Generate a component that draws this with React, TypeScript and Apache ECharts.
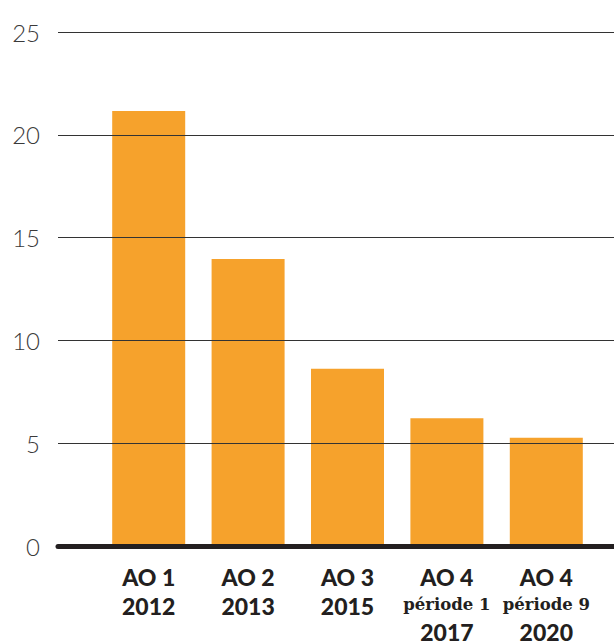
import React, { useEffect, useRef } from "react";
import * as echarts from "echarts";

const categories = [
  "{a|AO 1}\n{a|2012}",
  "{a|AO 2}\n{a|2013}",
  "{a|AO 3}\n{a|2015}",
  "{c|AO 4}\n{b|période 1}\n{c|2017}",
  "{c|AO 4}\n{b|période 9}\n{c|2020}",
];
const values = [21.15, 13.95, 8.6, 6.2, 5.25];
const yTicks = { min: 0, max: 25, interval: 5 };

export default function App() {
  const ref = useRef<HTMLDivElement>(null);
  useEffect(() => {
    const chart = echarts.init(ref.current!, null, { renderer: "svg" });
    chart.setOption({
      animation: false,
      grid: [
        { left: 58, right: 0, top: 32, bottom: 97 },
        { left: 99, right: 18, top: 32, bottom: 97 },
      ],
      xAxis: [
        {
          gridIndex: 0,
          type: "category",
          data: ["", ""],
          z: 5,
          axisLabel: { show: false },
          axisTick: { show: false },
          axisLine: { show: true, lineStyle: { color: "#231f20", width: 5, cap: "round" } },
        },
        {
          gridIndex: 1,
          type: "category",
          data: categories,
          axisLine: { show: false },
          axisTick: { show: false },
          axisLabel: {
            interval: 0,
            margin: 17,
            color: "#231f20",
            rich: {
              a: { fontFamily: "Lato", fontWeight: 900, fontSize: 23, lineHeight: 29, color: "#231f20" },
              c: { fontFamily: "Lato", fontWeight: 900, fontSize: 23, lineHeight: 28, color: "#231f20" },
              b: { fontFamily: "DejaVu Serif", fontWeight: "bold", fontSize: 16.5, lineHeight: 27, color: "#231f20" },
            },
          },
        },
      ],
      yAxis: [
        {
          gridIndex: 0,
          type: "value",
          ...yTicks,
          z: 5,
          axisLine: { show: false },
          axisTick: { show: false },
          axisLabel: { margin: 18, color: "#3a3a3a", fontFamily: "Lato", fontWeight: 300, fontSize: 24 },
          splitLine: { show: true, lineStyle: { color: "#333333", width: 1.2 } },
        },
        {
          gridIndex: 1,
          type: "value",
          ...yTicks,
          show: false,
          splitLine: { show: false },
        },
      ],
      series: [
        {
          type: "bar",
          xAxisIndex: 1,
          yAxisIndex: 1,
          data: values,
          barWidth: 73,
          itemStyle: { color: "#F6A22C" },
        },
      ],
    });
    return () => chart.dispose();
  }, []);
  return (
    <div
      ref={ref}
      style={{ position: "absolute", left: 0, top: 0, width: 614, height: 643, background: "#fff" }}
    />
  );
}
